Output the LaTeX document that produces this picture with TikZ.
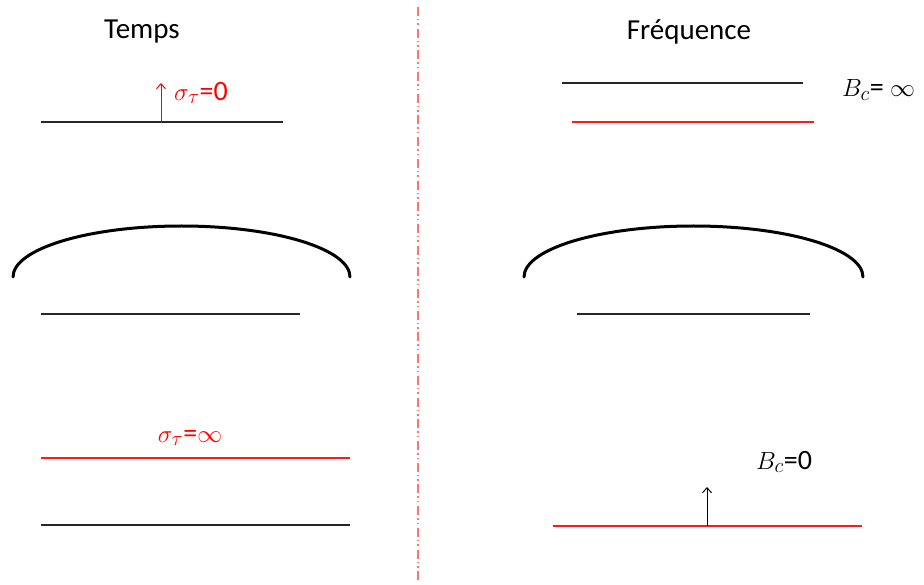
\documentclass[tikz,border=0pt]{standalone}
\usepackage{fontspec}
\setmainfont{Carlito}
\usetikzlibrary{arrows.meta,positioning}

\begin{document}
\begin{tikzpicture}[
    x=1pt, y=-1pt,
    title/.style={font=\fontsize{29}{33}\selectfont},
    lbl/.style={font=\fontsize{28}{32}\selectfont, inner sep=0pt},
    thinline/.style={line width=1.2pt, black!85},
    redline/.style={line width=1.2pt, red!90},
    bigarc/.style={line width=3pt, line cap=round},
    vec/.style={-{Straight Barb[length=5pt,width=9pt]}, line width=1pt},
    axis/.style={line width=1.4pt, red!55, dash pattern=on 9pt off 3pt on 1.5pt off 3pt on 1.5pt off 3.7pt}
]
\useasboundingbox (0,0) rectangle (924,585);

\node[title] (temps) at (142,32) {Temps};
\node[title] (freq) at (689,32) {Fréquence};
\coordinate (axtop) at (418,7);
\coordinate (axbot) at (418,580);
\draw[axis] (axtop) -- (axbot);

\coordinate (tA) at (41,122);
\coordinate (tB) at (283,122);
\coordinate (tDirac) at (161,122);
\coordinate (tTip) at (161,83);
\draw[thinline] (tA) -- (tB);
\draw[vec, red] (tDirac) -- (tTip);
\node[lbl, red, anchor=west] (sig0) at (174,93) {$\sigma_\tau$=0};

\coordinate (fA) at (562,83);
\coordinate (fB) at (803,83);
\coordinate (fC) at (572,122);
\coordinate (fD) at (814,122);
\draw[thinline] (fA) -- (fB);
\draw[redline] (fC) -- (fD);
\node[lbl, anchor=west] (binf) at (842,90) {$B_c$= $\infty$};

\coordinate (arcL) at (13,277);
\coordinate (arcR) at (524,277);
\draw[bigarc] (arcL) arc[start angle=180, end angle=360, x radius=168.5, y radius=51];
\draw[bigarc] (arcR) arc[start angle=180, end angle=360, x radius=169.5, y radius=51];
\coordinate (mA) at (41,314);
\coordinate (mB) at (300,314);
\coordinate (mC) at (577,314);
\coordinate (mD) at (810,314);
\draw[thinline] (mA) -- (mB);
\draw[thinline] (mC) -- (mD);

\coordinate (bA) at (41,458);
\coordinate (bB) at (350,458);
\coordinate (bC) at (41,525);
\coordinate (bD) at (350,525);
\draw[redline] (bA) -- (bB);
\draw[thinline] (bC) -- (bD);
\node[lbl, red] (siginf) at (190,438) {$\sigma_\tau$=$\infty$};

\coordinate (bE) at (553,526);
\coordinate (bF) at (862,526);
\coordinate (bDirac) at (707,526);
\coordinate (bTip) at (707,487);
\draw[redline] (bE) -- (bF);
\draw[vec] (bDirac) -- (bTip);
\node[lbl, anchor=west] (b0) at (756,462) {$B_c$=0};
\end{tikzpicture}
\end{document}
